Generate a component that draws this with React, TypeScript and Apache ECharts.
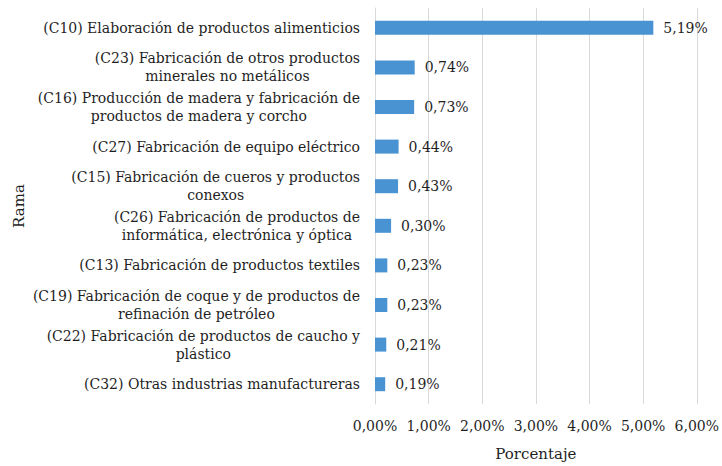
import React, { useEffect, useRef } from "react";
import * as echarts from "echarts";

const categories: string[][] = [
  ["(C10) Elaboración de productos alimenticios"],
  ["(C23) Fabricación de otros productos", "minerales no metálicos"],
  ["(C16) Producción de madera y fabricación de", "productos de madera y corcho"],
  ["(C27) Fabricación de equipo eléctrico"],
  ["(C15) Fabricación de cueros y productos", "conexos"],
  ["(C26) Fabricación de productos de", "informática, electrónica y óptica"],
  ["(C13) Fabricación de productos textiles"],
  ["(C19) Fabricación de coque y de productos de", "refinación de petróleo"],
  ["(C22) Fabricación de productos de caucho y", "plástico"],
  ["(C32) Otras industrias manufactureras"],
];
const values: number[] = [5.19, 0.74, 0.73, 0.44, 0.43, 0.3, 0.23, 0.23, 0.21, 0.19];
const xTicks = { min: 0, max: 6, interval: 1 };
const xAxisTitle = "Porcentaje";
const yAxisTitle = "Rama";

const FONT = "DejaVu Serif";
const TEXT = "#1f1f1f";
const FS = 14;

export default function App() {
  const ref = useRef<HTMLDivElement>(null);
  useEffect(() => {
    if (!ref.current) return;
    const chart = echarts.init(ref.current, undefined, { renderer: "svg" });
    const catNames = categories.map((l) => l.join("\n"));
    chart.setOption({
      animation: false,
      textStyle: { fontFamily: FONT, color: TEXT },
      grid: { left: 375, right: 24, top: 8, bottom: 58, containLabel: false },
      xAxis: {
        type: "value",
        min: xTicks.min,
        max: xTicks.max,
        interval: xTicks.interval,
        name: xAxisTitle,
        nameLocation: "middle",
        nameGap: 42,
        nameTextStyle: { fontFamily: FONT, fontSize: 15, color: TEXT },
        axisLine: { show: false },
        axisTick: { show: false },
        axisLabel: {
          fontFamily: FONT,
          fontSize: FS,
          color: TEXT,
          margin: 15,
          formatter: (v: number) => v.toFixed(2).replace(".", ",") + "%",
        },
        splitLine: { show: true, lineStyle: { color: "#d9d9d9", width: 1 } },
      },
      yAxis: {
        type: "category",
        inverse: true,
        data: catNames,
        name: yAxisTitle,
        nameLocation: "middle",
        nameGap: 349,
        nameRotate: 90,
        nameTextStyle: { fontFamily: FONT, fontSize: 15, color: TEXT },
        axisLine: { show: true, lineStyle: { color: "#d9d9d9", width: 1 } },
        axisTick: { show: false },
        axisLabel: {
          margin: 15,
          align: "right",
          fontFamily: FONT,
          fontSize: FS,
          color: TEXT,
          formatter: (v: string) =>
            v
              .split("\n")
              .map((s) => "{c|" + s + "}")
              .join("\n"),
          rich: {
            c: {
              align: "center",
              fontFamily: FONT,
              fontSize: FS,
              color: TEXT,
              lineHeight: 18,
            },
          },
        },
      },
      series: [
        {
          type: "bar",
          data: values,
          barWidth: 14,
          itemStyle: { color: "#4A93D3" },
          label: {
            show: true,
            position: "right",
            distance: 10,
            fontFamily: FONT,
            fontSize: FS,
            color: TEXT,
            formatter: (p: any) => p.value.toFixed(2).replace(".", ",") + "%",
          },
        },
      ],
    });
    return () => chart.dispose();
  }, []);
  return <div ref={ref} style={{ width: 722, height: 466, position: "absolute", left: 0, top: 0 }} />;
}
